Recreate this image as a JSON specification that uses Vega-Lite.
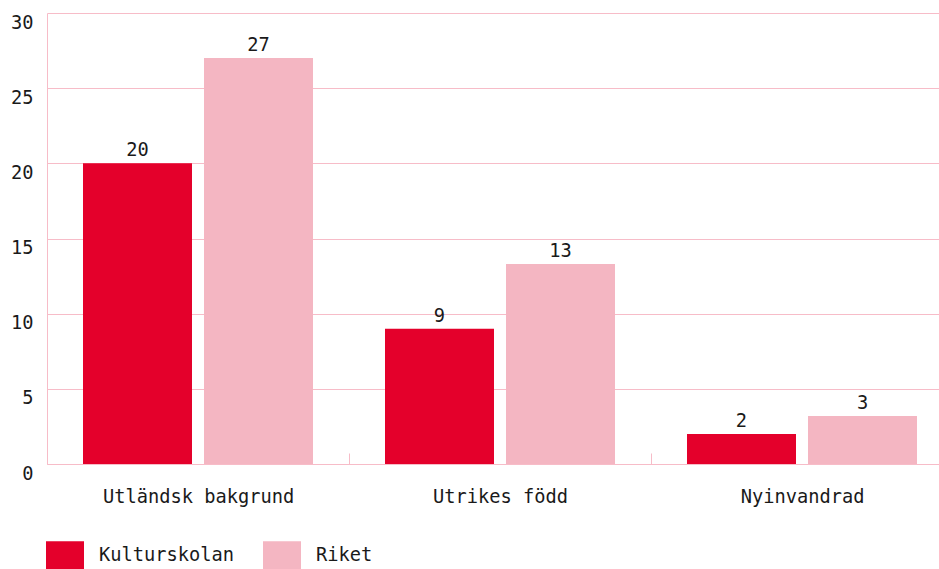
{
  "$schema": "https://vega.github.io/schema/vega-lite/v6.json",
  "autosize": "none",
  "padding": {"left": 47, "top": 13, "right": 0, "bottom": 105},
  "width": 892,
  "height": 451,
  "config": {
    "font": "DejaVu Sans Mono",
    "view": {"stroke": null},
    "axis": {"labelFont": "DejaVu Sans Mono", "labelFontSize": 18.7, "labelColor": "#1a1a1a", "labelLimit": 0},
    "legend": {"labelFont": "DejaVu Sans Mono"}
  },
  "data": {
    "values": [
      {"kategori": "Utländsk bakgrund", "serie": "Kulturskolan", "varde": 20},
      {"kategori": "Utländsk bakgrund", "serie": "Riket", "varde": 27},
      {"kategori": "Utrikes född", "serie": "Kulturskolan", "varde": 9},
      {"kategori": "Utrikes född", "serie": "Riket", "varde": 13.3},
      {"kategori": "Nyinvandrad", "serie": "Kulturskolan", "varde": 2},
      {"kategori": "Nyinvandrad", "serie": "Riket", "varde": 3.2}
    ]
  },
  "encoding": {
    "x": {
      "field": "kategori",
      "type": "nominal",
      "sort": ["Utländsk bakgrund", "Utrikes född", "Nyinvandrad"],
      "scale": {"range": [0, 906], "paddingInner": 0, "paddingOuter": 0},
      "axis": {
        "title": null,
        "labelAngle": 0,
        "labelLimit": 0,
        "domainColor": "#f7bcc8",
        "ticks": true,
        "tickColor": "#f7bcc8",
        "tickWidth": 1,
        "tickBand": "extent",
        "tickSize": -11,
        "labelPadding": 34,
        "labelBaseline": "top",
        "grid": false
      }
    },
    "xOffset": {
      "field": "serie",
      "sort": ["Kulturskolan", "Riket"],
      "scale": {"paddingInner": 0.0992, "paddingOuter": 0.2975}
    },
    "y": {
      "field": "varde",
      "type": "quantitative",
      "scale": {"domain": [0, 30]},
      "axis": {
        "title": null,
        "values": [0, 5, 10, 15, 20, 25, 30],
        "ticks": false,
        "tickSize": 0,
        "labelPadding": 14,
        "labelBaseline": "top",
        "domainColor": "#f7bcc8",
        "gridColor": "#f7bcc8",
        "gridWidth": 1,
        "grid": true
      }
    }
  },
  "layer": [
    {
      "mark": {"type": "bar"},
      "encoding": {
        "color": {
          "field": "serie",
          "type": "nominal",
          "sort": ["Kulturskolan", "Riket"],
          "scale": {"domain": ["Kulturskolan", "Riket"], "range": ["#e4002b", "#f4b6c2"]},
          "legend": {
            "title": null,
            "orient": "none",
            "legendX": -1,
            "legendY": 523,
            "direction": "horizontal",
            "padding": 0,
            "labelFontSize": 18.7,
            "labelColor": "#1a1a1a",
            "symbolType": "M-1,-0.75H1V0.75H-1Z",
            "symbolSize": 1444,
            "symbolStrokeWidth": 0,
            "symbolOpacity": 1,
            "labelOffset": 15,
            "columnPadding": 28
          }
        }
      }
    },
    {
      "mark": {"type": "text", "dy": -7, "baseline": "alphabetic", "fontSize": 18.7, "color": "#1a1a1a", "font": "DejaVu Sans Mono"},
      "encoding": {"text": {"field": "varde", "type": "quantitative", "format": ".0f"}}
    }
  ]
}
